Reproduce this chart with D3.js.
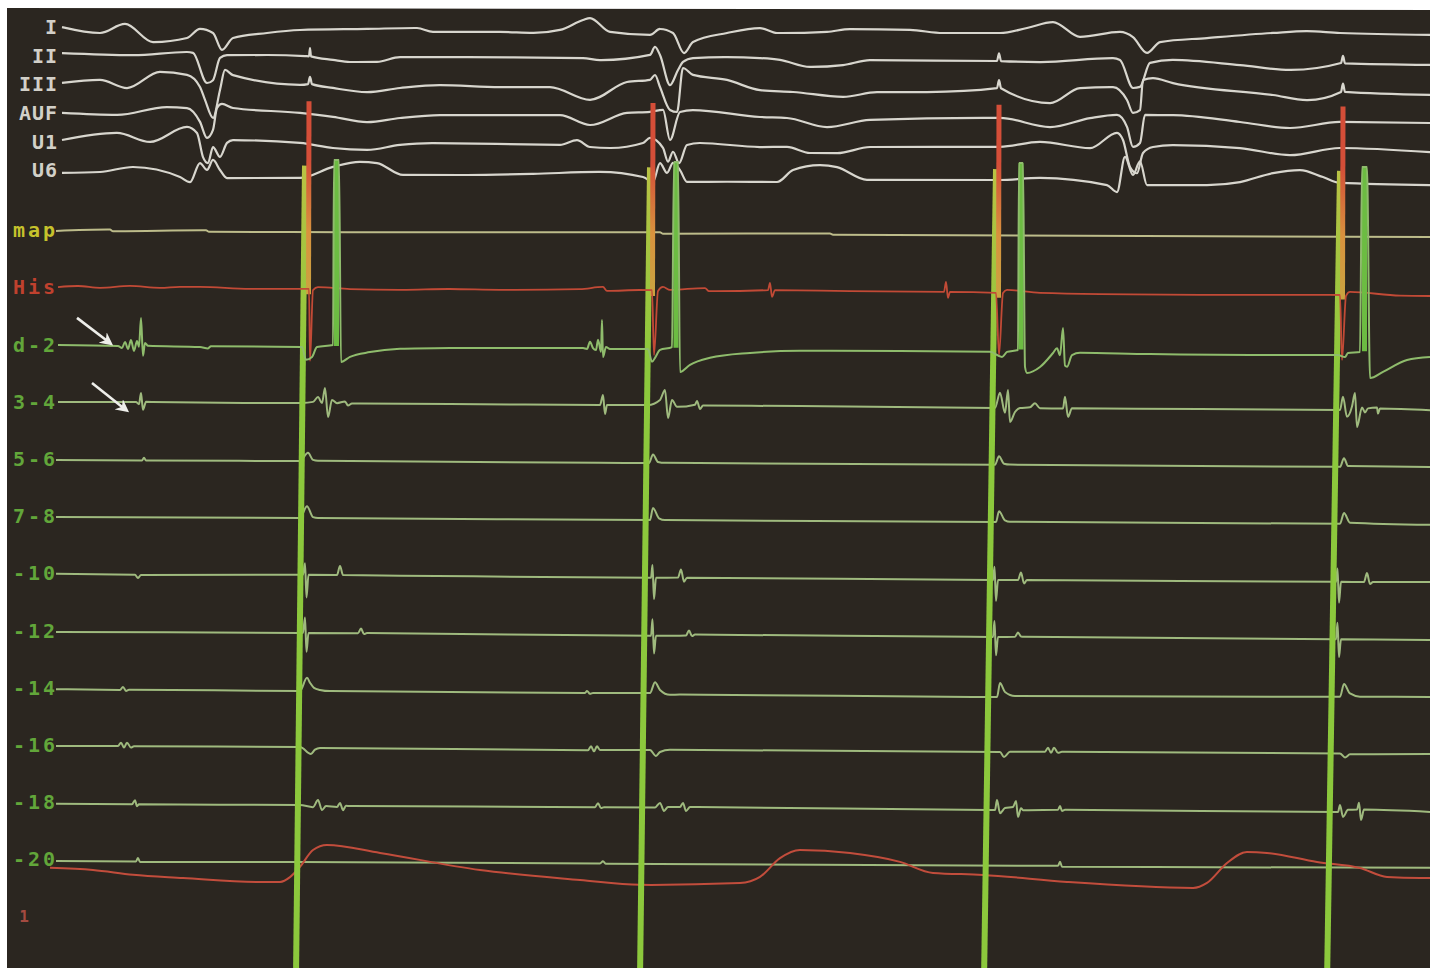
<!DOCTYPE html>
<html>
<head>
<meta charset="utf-8">
<script src="https://cdn.jsdelivr.net/npm/d3@7"></script>
<style>
  html, body { margin: 0; padding: 0; background: #fff; overflow: hidden; }
</style>
</head>
<body>
<svg id="chart" width="1430" height="968"></svg>
<script>
// time in ms (0.5 px per ms), amplitude in mm (positive = up), rows = channel offsets in mm
var channelLabels = ["I", "II", "III", "AUF", "U1", "U6", "map", "His", "d-2", "3-4", "5-6", "7-8",
                     "-10", "-12", "-14", "-16", "-18", "-20", "1"];
var channelRows = [0, 10, 20, 30, 40, 50, 71, 91, 111, 131, 151, 171, 191, 211, 231, 251, 271, 291, 311];

var traceI = [[28,0],[104,-2],[154,1.2],[210,-5.1],[278,-3.6],[304,-0.4],[330,-1.8],[348,-7.7],[370,-3.5],[438,-1.7],[504,-0.6],[638,-0.1],[738,0.3],[770,-1],[904,-0.9],[970,-1.2],[1024,-0.1],[1070,3.4],[1084,4.1],[1124,-0.7],[1204,-1.7],[1224,0.4],[1250,-1],[1272,-8],[1290,-4.1],[1358,-0.9],[1424,0.9],[1458,-0.8],[1558,-0.3],[1604,0.7],[1724,0.5],[1790,-0.5],[1904,-0.4],[1958,1.4],[2010,3.5],[2064,-1.6],[2144,0.2],[2170,-1.6],[2198,-7.1],[2224,-3.3],[2318,-1.8],[2450,0.1],[2518,0.8],[2584,0.2],[2764,-0.3]];
var traceII = [[28,0.9],[170,0.3],[278,1.5],[290,1.2],[318,-9.3],[330,-8.3],[344,-0.5],[358,0.5],[438,0.6],[514,0.3],[522,0.2],[524,3.1],[526,0.2],[570,-1],[604,-1.7],[658,-1.6],[704,0.1],[838,0.2],[1070,0.1],[1104,-0.6],[1204,1.3],[1214,4.1],[1224,1.3],[1244,-9.2],[1260,-3.9],[1270,-1.1],[1290,0.3],[1358,0.7],[1424,0.4],[1464,-0.2],[1524,-2.6],[1590,-1.9],[1644,-0.1],[1898,-0.2],[1902,2.5],[1906,-0.2],[1984,-0.5],[2130,1],[2144,0.4],[2170,-9.4],[2184,-9],[2204,-0.6],[2250,0.5],[2384,-1.2],[2484,-2.8],[2586,-0.3],[2590,2.2],[2594,-0.4],[2764,-0.8]];
var traceIII = [[28,0.5],[104,1.6],[158,-1.2],[224,4.5],[278,3.5],[304,-0.7],[314,-5.2],[330,-11.5],[344,-1.7],[354,5.3],[370,3.5],[504,0.2],[520,0.5],[524,3],[528,0.5],[570,-0.8],[638,-2.2],[704,-0.7],[784,0.4],[904,-0.2],[1004,-0.1],[1084,-4.5],[1158,1.8],[1204,2.6],[1214,4.3],[1224,0.1],[1244,-7.9],[1258,-8.6],[1270,6.8],[1290,4.4],[1358,2.7],[1424,-0.8],[1490,-1.4],[1590,-3],[1658,-1.3],[1758,-1.2],[1898,0.3],[1902,3.1],[1906,0.3],[2004,-4.8],[2064,0.5],[2130,0.9],[2158,-3.6],[2170,-8.1],[2184,-7.1],[2190,3.4],[2210,4.1],[2250,2.4],[2450,-1.6],[2518,-3.3],[2586,-0.4],[2590,2.5],[2594,-0.4],[2764,-1.3]];
var traceAVF = [[28,0],[138,-0.6],[238,2.2],[278,1.9],[304,-2.9],[318,-8.5],[330,-5.7],[338,2],[348,3.4],[370,2],[504,0.4],[570,-0.9],[638,-2.7],[704,-1.2],[784,-0.1],[1024,0.1],[1084,-3.3],[1158,1],[1204,1.4],[1230,2.1],[1244,-8.4],[1264,1.4],[1290,2.1],[1424,-0.2],[1478,-0.5],[1558,-3.6],[1644,-1],[1904,-0.1],[2004,-3.2],[2084,0],[2138,1.2],[2158,-3],[2170,-10],[2184,-8.6],[2194,1.2],[2250,1.2],[2384,-1.1],[2484,-3.1],[2584,-0.9],[2764,-1.1]];
var traceV1 = [[28,0.5],[138,3.1],[204,0],[278,5.3],[298,3.2],[310,-5.2],[320,-7.3],[330,-1.7],[344,-5.1],[358,-0.2],[370,0.8],[504,-0.1],[570,-1.8],[638,-2.4],[704,-0.6],[770,0.1],[1024,-0.3],[1058,1.4],[1084,-1],[1124,-1.3],[1190,0.5],[1204,2.3],[1230,-1.2],[1240,-6],[1250,-2.5],[1262,-6.5],[1278,-0.1],[1304,0.6],[1424,-0.7],[1478,-0.6],[1524,-2.7],[1578,-2.7],[1644,-0.5],[1904,-0.2],[1984,1.6],[2084,-0.5],[2138,4.9],[2150,2.4],[2164,-7],[2178,-9.2],[2190,-2.1],[2210,0],[2250,0.7],[2384,-0.2],[2484,-2.6],[2584,0],[2764,-1.3]];
var traceV6 = [[28,-1],[104,-0.6],[170,1.2],[264,-2.2],[284,-4],[304,2.7],[318,0.3],[330,3.8],[344,0.3],[358,-2.5],[504,-2.3],[570,1.6],[624,3.4],[658,3],[710,-1.1],[838,-1],[970,-0.5],[1104,0.3],[1190,-1.4],[1210,-3.1],[1224,3.5],[1238,0.1],[1250,3.6],[1264,1.1],[1278,-3],[1358,-2.9],[1458,-2.9],[1490,1.3],[1544,3.1],[1578,2.4],[1638,-2],[1904,-1.8],[1984,-1],[2118,-3.4],[2138,-5.8],[2154,6.5],[2170,0.2],[2184,5],[2198,-3.3],[2318,-3.2],[2384,-2.1],[2450,1.1],[2504,2.2],[2550,-0.2],[2584,-2.2],[2764,-2.8]];
var traceMap = [[16,-0.3],[124,0.3],[130,-0.3],[316,0.2],[322,-0.3],[600,-0.2],[1224,0.3],[1230,-0.2],[1564,0.2],[1570,-0.2],[2764,0]];
var traceHis = [[20,0.1],[60,0.5],[104,-0.1],[164,0.6],[224,0],[264,0.4],[304,0.4],[404,-0.2],[504,-0.1],[522,-0.1],[524,-25.3],[530,-0.5],[540,0.5],[604,-0.1],[704,-0.3],[804,0.1],[904,-0.1],[1064,0.3],[1110,1.1],[1118,-0.3],[1184,0.1],[1208,0.1],[1212,-22.6],[1220,-0.2],[1230,1.2],[1244,0.2],[1314,0.9],[1322,-0.2],[1440,0.3],[1444,2.8],[1448,-2.1],[1454,0.3],[1604,0.1],[1792,0],[1796,3.5],[1800,-2.1],[1804,0],[1896,-0.3],[1902,-22],[1910,-0.3],[1918,0.8],[1984,-0.2],[2104,-0.5],[2304,-0.6],[2584,-0.4],[2588,-23.1],[2596,-0.7],[2604,0.7],[2704,-0.5],[2764,-0.6]];
var traceD2 = [[20,-0.2],[140,-0.4],[148,-1.1],[154,1],[160,-1.4],[166,1.7],[172,-2.1],[178,1.4],[182,-0.6],[186,9.4],[190,-3.8],[194,0.7],[200,-0.3],[304,-0.6],[320,-1.1],[326,-0.3],[508,-0.4],[516,-4.9],[528,-3.9],[538,-0.4],[570,0.3],[572,65],[582,65],[586,-5.6],[604,-3.8],[644,-2.1],[704,-0.9],[804,-0.5],[904,-0.4],[1064,-0.3],[1070,-0.3],[1078,-0.6],[1084,1.9],[1090,-0.3],[1096,-1],[1100,2.6],[1106,-1.6],[1108,9.5],[1110,-3.4],[1116,0.1],[1124,-0.6],[1200,-0.5],[1208,-5],[1214,-3.6],[1224,-0.8],[1248,0.2],[1252,64.9],[1260,64.9],[1264,-8.5],[1284,-6],[1324,-3.5],[1404,-1.7],[1504,-0.9],[1704,-0.8],[1884,-0.9],[1908,-2.7],[1918,-0.9],[1940,-0.2],[1942,65.2],[1950,65.2],[1954,-6.1],[1958,-8.2],[1984,-6.1],[2010,-1.2],[2018,0.5],[2024,-2],[2030,7.6],[2034,-5.6],[2038,-6],[2048,-1.9],[2064,-1.1],[2204,-1.4],[2404,-1.5],[2580,-1.4],[2594,-2.1],[2600,-0.7],[2624,-0.3],[2628,64.4],[2638,64.4],[2644,-9.4],[2670,-7.2],[2718,-3],[2764,-1.9]];
var trace34 = [[20,-0.1],[176,0],[182,-0.7],[186,3.2],[190,-2.7],[196,0.1],[404,-0.1],[508,0],[530,0.4],[540,2.1],[548,0],[554,5.3],[560,-4.9],[568,1.1],[578,0],[594,0.6],[600,-0.8],[608,-0.1],[624,-0.1],[804,-0.1],[1104,-0.2],[1110,3.3],[1114,-3.3],[1118,-0.2],[1200,-0.1],[1224,1.7],[1234,5.2],[1240,-4.6],[1248,1.7],[1258,-0.7],[1294,0.1],[1298,1.4],[1304,-1.4],[1310,-0.2],[1504,-0.2],[1894,-0.5],[1904,4.8],[1914,-2.2],[1920,5.8],[1924,-5.4],[1934,-1.9],[1944,-0.5],[1964,-0.2],[1974,1.2],[1984,-0.5],[2030,-0.6],[2034,3.5],[2040,-3.5],[2048,-0.5],[2304,-0.5],[2584,-0.6],[2590,4],[2598,-3],[2608,0.6],[2614,5.4],[2618,-6.5],[2628,0.3],[2634,-1.4],[2640,0],[2658,0.3],[2660,-1.8],[2664,0],[2764,-0.5]];
var trace56 = [[16,-0.4],[188,-0.4],[192,0.6],[196,-0.4],[504,-0.3],[520,2.6],[530,0.1],[540,-0.2],[1104,-0.4],[1202,-0.4],[1210,2.6],[1220,0],[1234,-0.3],[1894,-0.4],[1902,2.6],[1912,0],[1924,-0.3],[2584,-0.5],[2592,2.5],[2600,-0.2],[2764,-0.4]];
var trace78 = [[16,-0.3],[504,-0.2],[518,3.9],[530,0.1],[540,-0.2],[1204,-0.3],[1210,3.9],[1222,0.3],[1234,-0.3],[1896,-0.4],[1902,3.4],[1914,0.2],[1924,-0.3],[2584,-0.4],[2592,3.4],[2604,0],[2764,-0.6]];
var trace910 = [[16,-0.2],[174,-0.4],[180,-1.5],[186,-0.4],[504,-0.1],[510,-0.1],[514,4],[517,-8],[521,-0.1],[578,-0.1],[584,3.1],[590,-0.1],[704,-0.2],[1204,-0.5],[1206,-0.5],[1209,4],[1212,-8],[1216,-0.5],[1260,-0.4],[1266,2.4],[1272,-1.8],[1278,-0.4],[1886,-0.7],[1890,-0.7],[1893,4],[1896,-8],[1900,-0.7],[1940,-0.6],[1946,2],[1952,-1.8],[1958,-0.6],[2572,-0.7],[2576,-0.7],[2579,4],[2582,-8],[2586,-0.7],[2632,-0.7],[2638,2.4],[2644,-1.4],[2650,-0.7],[2764,-0.6]];
var trace1112 = [[16,-0.5],[504,-0.4],[510,-0.4],[514,5],[517,-7],[521,-0.4],[620,-0.4],[626,1.2],[632,-0.7],[638,-0.3],[1204,-0.8],[1206,-0.8],[1209,5],[1212,-7],[1216,-0.8],[1276,-0.6],[1282,1.1],[1288,-0.8],[1294,-0.3],[1886,-0.6],[1890,-0.6],[1893,5],[1896,-7],[1900,-0.6],[1934,-0.5],[1940,1],[1946,-0.4],[1952,-0.5],[2572,-0.8],[2576,-0.8],[2579,5],[2582,-7],[2586,-0.8],[2764,-0.9]];
var trace1314 = [[16,-0.5],[144,-0.7],[150,0.4],[156,-1],[162,-0.6],[504,-0.7],[518,3.9],[524,2.2],[532,0.4],[544,-0.3],[564,-0.7],[1074,-0.9],[1078,-0.2],[1084,-1.2],[1090,-0.9],[1204,-0.8],[1214,3],[1224,0.3],[1244,-1.4],[1264,-1.3],[1898,-1.6],[1904,3.3],[1914,0.2],[1934,-1.2],[2584,-0.9],[2592,3.6],[2604,0.3],[2624,-0.8],[2764,-0.8]];
var trace1516 = [[16,-0.4],[140,-0.3],[146,0.9],[152,-0.8],[158,0.9],[166,-0.8],[172,-0.3],[504,-0.3],[526,-2.7],[534,-1.2],[544,-0.6],[1080,-0.9],[1086,0.5],[1092,-1.3],[1098,0.5],[1104,-0.8],[1204,-0.7],[1216,-2.8],[1224,-1.4],[1244,-0.6],[1904,-0.8],[1912,-2.5],[1924,-0.7],[1994,-0.6],[2000,0.8],[2006,-1],[2012,0.8],[2020,-1],[2028,-0.6],[2584,-0.7],[2594,-2.1],[2604,-1],[2764,-0.7]];
var trace1718 = [[16,-0.6],[168,-0.6],[174,0.8],[178,-1.3],[182,-0.6],[504,-0.6],[530,-1.3],[540,1.2],[548,-2.3],[556,-0.9],[578,-1.2],[584,0.2],[590,-2.3],[596,-0.8],[604,-0.8],[1094,-0.8],[1100,0.6],[1106,-1.1],[1112,-0.8],[1214,-0.8],[1224,0.8],[1232,-2],[1240,-0.6],[1264,-0.6],[1270,0.8],[1276,-2],[1284,-0.6],[1894,-1.1],[1898,2.4],[1904,-2.2],[1914,-0.4],[1930,0],[1936,2.1],[1940,-3.5],[1946,-0.4],[1950,-1.1],[2020,-0.9],[2024,0.4],[2028,-1.3],[2034,-0.9],[2580,-1.2],[2584,1.3],[2590,-2.9],[2600,-0.4],[2618,-0.3],[2622,2.1],[2626,-3.9],[2632,-0.3],[2764,-1]];
var trace1920 = [[16,-0.6],[176,-0.6],[180,0.6],[184,-0.8],[504,-0.5],[1104,-0.5],[1110,0.3],[1116,-0.6],[2020,-0.5],[2024,0.9],[2028,-0.8],[2764,-0.5]];
var pressure = [[4,17],[90,16.3],[170,14.7],[270,13.7],[424,12.4],[464,12.5],[484,14.2],[504,17.8],[530,23.7],[558,25.5],[664,22.8],[864,17],[1064,13.7],[1184,12.1],[1384,12.9],[1424,15.1],[1464,21.7],[1504,24.6],[1604,23.6],[1704,20.6],[1770,16.8],[1870,16.2],[2038,13.9],[2290,12],[2318,13.8],[2358,20.8],[2398,24.7],[2438,24.4],[2538,21.3],[2624,19.3],[2678,16.2],[2744,15.9],[2764,15.9]];

// stimulus artefacts
var paceTimes = [522, 1210, 1902, 2590];
var stimTopTimes = [514, 1204, 1896, 2584];
var stimBottomTimes = [496, 1184, 1872, 2558];
var farFieldTimes = [577, 1256, 1946, 2633];
var farFieldTops = [65, 64.9, 65.2, 64.4];

// annotation arrows: [t tail, y tail, t head, y head]
var arrowsData = [[58, 101.7, 124, 110.5], [88, 124.5, 156, 133.9]];

var traces = [traceI, traceII, traceIII, traceAVF, traceV1, traceV6, traceMap, traceHis, traceD2,
              trace34, trace56, trace78, trace910, trace1112, trace1314, trace1516, trace1718, trace1920, pressure];

var svg = d3.select("#chart"),
   x = d3.scaleLinear().domain([0, 2764]).range([48, 1430]),
   y = d3.scaleLinear().domain([0, 100]).range([27, 313]),
   defs = svg.append("defs");

function colorFor(i) {
   if (i < 6) { return "#d8d6ce"; }
   if (i === 6) { return "#bdbc8a"; }
   if (i === 7) { return "#c24a36"; }
   if (i === 18) { return "#c24d3c"; }
   return "#9fba7e";
}
function labelColor(i) {
   if (i < 6) { return "#d2d0c8"; }
   if (i === 6) { return "#c6c22c"; }
   if (i === 7) { return "#c0412e"; }
   if (i === 18) { return "#a44a40"; }
   return "#62a63a";
}

defs.append("clipPath").attr("id", "frame")
   .append("polygon").attr("points", "7,8 1430,10 1430,968 7,968");

var gRed = defs.append("linearGradient").attr("id", "stimRed")
   .attr("gradientUnits", "userSpaceOnUse").attr("x1", 0).attr("y1", 100).attr("x2", 0).attr("y2", 300);
gRed.append("stop").attr("offset", "0").attr("stop-color", "#d44e38");
gRed.append("stop").attr("offset", "0.3").attr("stop-color", "#d44e38");
gRed.append("stop").attr("offset", "0.65").attr("stop-color", "#d8923e");
gRed.append("stop").attr("offset", "1").attr("stop-color", "#c8a640");

var gGreen = defs.append("linearGradient").attr("id", "stimGreen")
   .attr("gradientUnits", "userSpaceOnUse").attr("x1", 0).attr("y1", 160).attr("x2", 0).attr("y2", 360);
gGreen.append("stop").attr("offset", "0").attr("stop-color", "#bac244");
gGreen.append("stop").attr("offset", "1").attr("stop-color", "#8cc83c");

defs.append("marker").attr("id", "ah").attr("viewBox", "0 0 10 10")
   .attr("refX", 7).attr("refY", 5).attr("markerWidth", 5).attr("markerHeight", 5)
   .attr("orient", "auto")
   .append("path").attr("d", "M0,0 L10,5 L0,10 L3,5 z").attr("fill", "#eeeeea");

var frame = svg.append("g").attr("clip-path", "url(#frame)");
frame.append("rect").attr("x", 0).attr("y", 0).attr("width", 1430).attr("height", 968).attr("fill", "#2b2620");

//channel labels
frame.selectAll("text.lab").data(channelLabels).enter().append("text")
   .attr("class", "lab")
   .attr("x", function (d, i) { return i === 18 ? 32 : 58; })
   .attr("y", function (d, i) { return y(channelRows[i]); })
   .attr("dy", "0.36em")
   .attr("text-anchor", "end")
   .attr("font-family", "'DejaVu Sans Mono', monospace")
   .attr("font-weight", "bold")
   .attr("font-size", function (d, i) { return i === 18 ? 16 : 20; })
   .attr("letter-spacing", function (d, i) { return i < 6 ? 1 : 3; })
   .attr("fill", function (d, i) { return labelColor(i); })
   .text(function (d) { return d; });

//traces, skewed slightly like the photographed screen
var plot = frame.append("g").attr("transform", "translate(48,27) skewY(0.292) translate(-48,-27)");

function lineFor(row) {
   return d3.line().curve(d3.curveMonotoneX)
      .x(function (d) { return x(d[0]); })
      .y(function (d) { return y(row - d[1]); });
}

traces.forEach(function (tr, i) {
   if (i === 7 || i === 8) { return; }
   plot.append("path").datum(tr)
      .attr("d", lineFor(channelRows[i]))
      .attr("fill", "none")
      .attr("stroke", colorFor(i))
      .attr("stroke-width", i < 6 ? 2.2 : 2)
      .attr("stroke-linejoin", "round");
});

//stimulus artefacts
plot.selectAll("line.stimG").data(paceTimes).enter().append("line")
   .attr("x1", function (d, i) { return x(stimTopTimes[i]); })
   .attr("y1", y(48))
   .attr("x2", function (d, i) { return x(stimBottomTimes[i]); })
   .attr("y2", y(332))
   .attr("stroke", "url(#stimGreen)")
   .attr("stroke-width", 6);

plot.selectAll("line.stimR").data(paceTimes).enter().append("line")
   .attr("x1", function (d) { return x(d); })
   .attr("y1", y(25.5))
   .attr("x2", function (d) { return x(d - 1); })
   .attr("y2", y(93))
   .attr("stroke", "url(#stimRed)")
   .attr("stroke-width", 5);

plot.append("path").datum(traceHis)
   .attr("d", lineFor(channelRows[7]))
   .attr("fill", "none").attr("stroke", colorFor(7)).attr("stroke-width", 1.8);

plot.selectAll("line.ff").data(farFieldTimes).enter().append("line")
   .attr("x1", function (d) { return x(d); })
   .attr("x2", function (d) { return x(d); })
   .attr("y1", function (d, i) { return y(channelRows[8] - farFieldTops[i]); })
   .attr("y2", y(channelRows[8]))
   .attr("stroke", "#6cbc42")
   .attr("stroke-width", 5);

plot.append("path").datum(traceD2)
   .attr("d", lineFor(channelRows[8]))
   .attr("fill", "none").attr("stroke", "#8fbc6c").attr("stroke-width", 2);

//arrows
frame.selectAll("line.arrow").data(arrowsData).enter().append("line")
   .attr("x1", function (d) { return x(d[0]); })
   .attr("y1", function (d) { return y(d[1]); })
   .attr("x2", function (d) { return x(d[2]); })
   .attr("y2", function (d) { return y(d[3]); })
   .attr("stroke", "#eeeeea")
   .attr("stroke-width", 2.6)
   .attr("marker-end", "url(#ah)");
</script>
</body>
</html>
